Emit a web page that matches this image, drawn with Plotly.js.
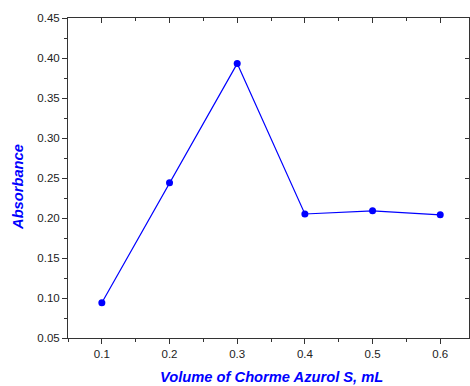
<!DOCTYPE html>
<html>
<head>
<meta charset="utf-8">
<script src="https://cdn.plot.ly/plotly-3.0.1.min.js"></script>
<style>html,body{margin:0;padding:0;background:#fff;}#chart{width:470px;height:386px;}</style>
</head>
<body>
<div id="chart"></div>
<script>
const volumes = [0.1, 0.2, 0.3, 0.4, 0.5, 0.6];
const absorbance = [0.094, 0.244, 0.393, 0.205, 0.209, 0.204];
const xTitle = 'Volume of Chorme Azurol S, mL';
const yTitle = 'Absorbance';
const xTickVals = [0.1, 0.2, 0.3, 0.4, 0.5, 0.6];
const yTickVals = [0.05, 0.10, 0.15, 0.20, 0.25, 0.30, 0.35, 0.40, 0.45];

const axisColor = '#333';
const tickFont = {family: 'Liberation Sans, Arial, sans-serif', size: 11.5, color: '#222'};
const titleFont = {family: 'Liberation Sans, Arial, sans-serif', size: 14.7, color: '#0000ff', weight: 'bold', style: 'italic'};

const traces = [
  {x: volumes, y: absorbance, type: 'scatter', mode: 'lines+markers',
   line: {color: '#0000ff', width: 1.2}, marker: {color: '#0000ff', size: 7},
   showlegend: false, hoverinfo: 'skip'},
  {x: volumes, y: absorbance, xaxis: 'x2', yaxis: 'y2', type: 'scatter', mode: 'markers',
   marker: {opacity: 0}, showlegend: false, hoverinfo: 'skip'}
];

const xr = [0.05, 0.6425];
const yr = [0.05, 0.45];

const layout = {
  width: 470, height: 386,
  margin: {l: 68, r: 1, t: 18, b: 48},
  paper_bgcolor: '#fff', plot_bgcolor: '#fff',
  xaxis: {range: xr, tickvals: xTickVals, ticktext: xTickVals.map(v => v.toFixed(1)),
    ticks: 'outside', ticklen: 5, tickwidth: 1, tickcolor: axisColor,
    minor: {dtick: 0.05, tick0: 0.05, ticks: 'outside', ticklen: 3, tickcolor: axisColor, showgrid: false},
    showline: true, linecolor: axisColor, linewidth: 1, showgrid: false, zeroline: false,
    tickfont: tickFont},
  yaxis: {range: yr, tickvals: yTickVals, ticktext: yTickVals.map(v => v.toFixed(2)),
    ticks: 'outside', ticklen: 5, tickwidth: 1, tickcolor: axisColor,
    minor: {dtick: 0.025, tick0: 0.025, ticks: 'outside', ticklen: 3, tickcolor: axisColor, showgrid: false},
    showline: true, linecolor: axisColor, linewidth: 1, showgrid: false, zeroline: false,
    tickfont: tickFont},
  xaxis2: {range: xr, overlaying: 'x', side: 'top', anchor: 'y2', tickvals: xTickVals,
    ticks: 'inside', ticklen: 5, tickcolor: axisColor, showticklabels: false,
    minor: {dtick: 0.05, tick0: 0.05, ticks: 'inside', ticklen: 3, tickcolor: axisColor, showgrid: false},
    showline: true, linecolor: axisColor, linewidth: 1, showgrid: false, zeroline: false},
  yaxis2: {range: yr, overlaying: 'y', side: 'right', anchor: 'x2', tickvals: yTickVals,
    ticks: 'inside', ticklen: 4, tickcolor: axisColor, showticklabels: false,
    showline: true, linecolor: axisColor, linewidth: 1, showgrid: false, zeroline: false},
  annotations: [
    {text: xTitle, xref: 'paper', yref: 'paper', x: 0.5075, y: -0.122,
     xanchor: 'center', yanchor: 'middle', showarrow: false, font: titleFont},
    {text: yTitle, xref: 'paper', yref: 'paper', x: -0.1247, y: 0.472, textangle: -90,
     xanchor: 'center', yanchor: 'middle', showarrow: false, font: titleFont}
  ]
};

Plotly.newPlot('chart', traces, layout, {staticPlot: true, displayModeBar: false});
</script>
</body>
</html>
